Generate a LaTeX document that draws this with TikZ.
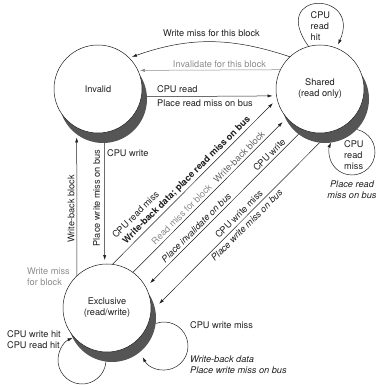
\documentclass[tikz,border=0pt]{standalone}
\usepackage{fontspec}
\setmainfont{TeX Gyre Heros}
\usetikzlibrary{arrows.meta}
\definecolor{shd}{RGB}{85,85,85}
\definecolor{lgray}{RGB}{140,140,140}
\definecolor{mgray}{RGB}{100,100,100}
\definecolor{ink}{RGB}{30,30,30}
\begin{document}
\begin{tikzpicture}[x=1pt,y=1pt,
  font=\fontsize{9.2}{11}\selectfont,
  state/.style={circle, draw=ink, line width=0.5pt, fill=white, minimum size=88pt,
    inner sep=0pt, outer sep=0pt, align=center, text=ink},
  shadowdisk/.style={circle, fill=shd, minimum size=88pt, inner sep=0pt, outer sep=0pt},
  conn/.style={draw=ink, line width=0.5pt, -{Latex[length=5pt,width=3.2pt]}},
  lbl/.style={inner sep=0pt, text=ink},
  dlbl/.style={lbl, rotate=45, anchor=west}]
\useasboundingbox (0,0) rectangle (379,385);
% states
\node[shadowdisk] (Ish) at (103,286) {};
\node[shadowdisk] (Ssh) at (325,286) {};
\node[shadowdisk] (Esh) at (112,67) {};
\node[state] (I) at (98,296) {Invalid};
\node[state] (S) at (320,296) {Shared\\(read only)};
\node[state] (E) at (107,77) {Exclusive\\(read/write)};
% loop centres
\coordinate (Sc) at (352,233);
\coordinate (Ec1) at (82,25);
\coordinate (Ec2) at (164,39);
% connectors
\draw[conn, shorten >=3pt] (S.133) to[bend right=19] (I.45);
\draw[conn, draw=lgray, shorten >=2pt] (S.154.4) -- (I.25.6);
\draw[conn, shorten >=4pt] (Ish.3.9) -- (S.189.2);
\draw[conn, shorten >=4pt] (Ish.-88.7) -- (E.93.9);
\draw[conn, shorten >=10pt] (E.133) -- (I.241.5);
\draw[conn, shorten >=6pt] (E.83.9) -- (S.193);
\draw[conn, shorten >=6pt] (E.54.3) -- (S.221.3);
\draw[conn, shorten >=6pt] (Ssh.233.3) -- (E.28.2);
\draw[conn, shorten >=6pt] (Ssh.263.9) -- (Esh.13);
% self loops
\draw[conn, shorten >=4pt] (S.105) .. controls (268,395) and (362,395) .. (S.68);
\draw[conn] ([shift={(78:23)}]Sc) arc[start angle=78, end angle=-204, radius=23];
\draw[conn] ([shift={(-4:24)}]Ec1) arc[start angle=-4, end angle=-247, radius=24];
\draw[conn] ([shift={(110.5:24)}]Ec2) arc[start angle=110.5, end angle=-152.4, radius=24];
% labels
\node[lbl] (l1) at (211.5,352) {Write miss for this block};
\node[lbl, text=lgray] (l2) at (219.5,321) {Invalidate for this block};
\node[lbl, anchor=west] (l3) at (157,296) {CPU read};
\node[lbl, anchor=west] (l4) at (157,282) {Place read miss on bus};
\node[lbl, anchor=west] (l5) at (107,232) {CPU write};
\node[lbl, rotate=90] (l6) at (96.5,187) {Place write miss on bus};
\node[lbl, rotate=90] (l7) at (71,176) {Write-back block};
\node[lbl, anchor=west, align=left, text=lgray] (l8) at (27,108) {Write miss\\for block};
\node[lbl, anchor=west, align=left] (l9) at (7,45) {CPU write hit\\CPU read hit};
\node[lbl, anchor=west] (l10) at (190,60) {CPU write miss};
\node[lbl, anchor=west, align=left, font=\fontsize{9.2}{11}\selectfont\itshape] (l11) at (190,20) {Write-back data\\Place write miss on bus};
\node[lbl, anchor=west, align=left] (l12) at (310.5,359) {CPU\\read\\hit};
\node[lbl, anchor=west, align=left] (l13) at (344,230) {CPU\\read\\miss};
\node[lbl, align=center, font=\fontsize{9.2}{11}\selectfont\itshape] (l14) at (352,195) {Place read\\miss on bus};
% diagonal labels
\node[dlbl] (d1) at (113.5,148.5) {CPU read miss};
\node[dlbl] (d2) at (124.5,142.5) {\bfseries Write-back data; place read miss on bus};
\node[dlbl, text=lgray] (d3) at (153,142) {Read miss for block};
\node[dlbl, text=mgray] (d4) at (215,204) {Write-back block};
\node[dlbl, font=\fontsize{9.2}{11}\selectfont\itshape] (d5) at (163,124) {Place invalidate on bus};
\node[dlbl] (d6) at (254.5,215.5) {CPU write};
\node[dlbl] (d7) at (216.5,148.5) {CPU write miss};
\node[dlbl, font=\fontsize{9.2}{11}\selectfont\itshape] (d8) at (212.5,125.5) {Place write miss on bus};
\end{tikzpicture}
\end{document}
